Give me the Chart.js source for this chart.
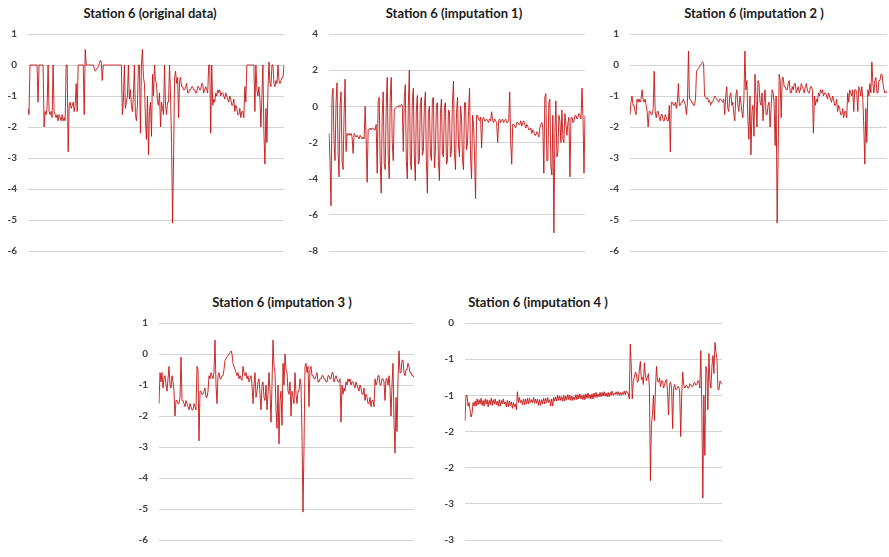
<!DOCTYPE html>
<html>
<head>
<meta charset="utf-8">
<script src="https://cdn.jsdelivr.net/npm/chart.js@4.4.0/dist/chart.umd.min.js"></script>
<style>
  body { margin: 0; background: #fff; width: 889px; height: 557px; position: relative; overflow: hidden; }
  .panel { position: absolute; }
  .ttl { position: absolute; font-family: Lato, "Open Sans", sans-serif; font-weight: bold; font-size: 13px; color: #1a1a1a; white-space: nowrap; transform: translateX(-50%); }
</style>
</head>
<body>
<script>
// titles
var titles = ['Station 6 (original data)', 'Station 6 (imputation 1)', 'Station 6 (imputation 2 )',
  'Station 6 (imputation 3 )', 'Station 6 (imputation 4 )'];

// series values left to right (gaps in the original are stored as 0)
var origData = [
  -1.4,-1.6,0,0,0,0,0,0,0,0,-1.2,0,0,0,0,0,-2.0,-1.5,-1.6,-1.4,
  0,-1.5,-1.6,-1.5,-1.7,0,-1.5,-1.6,-1.7,-1.6,-1.8,-1.6,-1.7,-1.8,-1.6,-1.8,-1.7,-1.8,0,0,
  -2.8,-1.3,-1.2,-1.4,-1.3,-1.2,-1.5,-1.3,-0.6,-1.5,0,0,0,0,0,0,-1.6,0.5,0,0,
  0,0,0,0,0,0,-0.1,-0.2,-0.15,-0.1,-0.05,0.05,0.15,0.1,-0.5,0,0,0,0,0,
  0,0,0,0,0,0,0,0,0,0,0,0,0,0,-1.6,-1.2,0,-1.4,-1.2,-1.0,
  0,-1.1,-0.8,-1.3,-1.5,-1.0,0,-1.6,-1.8,-1.3,0,0,-2.2,0,0.5,-0.4,-0.6,-1.8,-2.4,-1.0,
  -2.9,-1.5,-1.2,-2.3,-0.3,-1.0,0,-0.5,-0.6,-1.2,-1.3,-0.9,-2.0,-1.2,-1.4,-1.6,0,-1.3,-1.6,-1.2,
  -1.2,0,-1.0,-2.5,-5.1,-3.0,-0.4,-0.2,-0.6,-0.4,-1.7,-0.5,-0.4,-0.7,-0.7,-0.8,-0.8,-0.7,-0.6,-0.9,
  -0.9,-0.8,-0.8,-0.7,-0.7,-0.8,-0.8,-0.9,-0.9,-0.7,-0.7,-0.8,-0.8,-0.6,-0.6,-0.9,-0.8,-0.7,-0.8,-0.9,
  0,0,-2.2,0,-1.3,-1.1,-1.2,-0.9,-1.0,-0.8,-0.9,-0.8,-1.0,-0.9,-0.9,-1.0,-1.1,-0.9,-1.0,-1.1,
  -1.2,-1.0,-1.1,-1.3,-1.3,-1.1,-1.5,-1.3,-1.4,-1.6,-1.6,-1.4,-1.7,-1.5,-1.5,-1.7,-0.7,-1.2,0,0,
  0,0,0,0,0,0,-1.5,0,-0.8,-1.0,-0.7,-1.1,-2.0,-1.0,0,-2.2,-3.2,-1.4,-2.5,-0.8,
  0.1,-0.6,-0.7,0,0,-0.6,-0.7,-0.5,-0.6,0,-0.5,-0.6,-0.5,-0.4,-0.4,0];

var imp1Data = [
  -1.5,-3.0,-5.5,0.5,1.0,-2.0,-3.0,0.2,1.3,-2.5,-3.9,0.0,0.8,-3.0,-3.5,-0.5,1.5,-2.5,-1.5,-1.6,
  -1.5,-1.6,-1.5,-1.7,-2.6,-1.5,-1.6,-1.7,-1.6,-1.7,-1.8,-1.6,-1.7,-1.8,-1.7,-1.8,0.0,-1.8,-4.2,-1.3,
  -1.3,-1.2,-1.3,-1.2,-1.2,-1.3,-1.3,-1.0,-3.7,0.3,0.5,-3.0,-4.8,-0.5,0.8,-3.2,-3.5,0.0,1.6,-2.8,
  -4.0,0.5,1.6,-2.0,-3.0,-0.2,-0.1,-0.05,0.0,-0.05,0.05,0.0,0.1,0.05,-2.5,0.5,1.2,-3.0,-4.0,0.0,
  2.0,-3.0,-3.5,0.3,1.0,-2.8,-4.1,-0.2,0.6,-3.2,-3.0,0.2,0.5,-2.7,-2.5,0.0,0.8,-3.0,-4.8,-0.3,
  0.0,-2.6,-3.0,0.4,0.5,-3.4,-2.5,0.1,0.2,-3.0,-4.1,-0.4,0.4,-2.6,-2.8,0.0,0.2,-3.2,-3.0,-0.2,
  -0.3,-2.8,-2.5,0.3,1.4,-2.6,-3.5,-0.4,0.5,-2.2,-2.8,0.0,-0.5,-3.0,-3.5,0.2,0.2,-2.4,-2.0,-0.3,
  1.0,-2.8,-4.0,-0.5,-1.0,-2.8,-5.1,-0.5,-0.5,-0.7,-0.8,-0.6,-2.3,-0.7,-0.6,-0.8,-0.8,-0.7,-0.8,-0.9,
  -0.7,-0.8,-0.3,-0.8,-0.9,-0.7,-0.8,-0.9,-2.0,-0.8,-0.7,-0.9,-0.8,-0.7,-0.9,-0.8,-0.7,-0.9,-0.9,-0.8,
  0.8,-2.0,-3.2,-1.0,-1.0,-1.1,-1.2,-0.9,-0.9,-1.0,-1.0,-0.8,-1.1,-0.9,-0.8,-1.0,-1.2,-1.0,-1.1,-1.3,
  -1.3,-1.2,-1.5,-1.3,-1.4,-1.6,-1.6,-1.4,-1.5,-1.7,-1.2,-1.0,-0.9,-1.2,-3.7,0.5,0.7,-3.0,-3.0,0.2,
  0.4,-3.3,-3.8,-0.5,-7.0,-1.5,0.3,-2.8,-2.5,-0.5,-0.8,-2.0,-0.2,-1.8,-2.0,-0.4,-1.0,-1.6,-0.9,-0.6,
  -3.9,-0.7,-0.6,-0.9,-0.8,-0.5,-0.5,-0.7,-0.6,-0.4,-0.5,-0.7,1.0,-0.6,-3.7,-0.5];

var imp2Data = [
  -1.6,-1.2,-1.0,-1.3,-1.3,-1.5,-1.6,-1.1,-1.2,-1.1,-1.2,-1.1,-0.8,-1.1,-1.2,-1.1,-1.3,-1.5,-2.0,-1.5,
  -1.5,-1.6,-1.6,-1.4,-0.2,-1.5,-1.7,-1.5,-1.5,-1.7,-1.8,-1.6,-1.6,-1.8,-1.8,-1.6,-1.7,-1.8,-1.8,-1.3,
  -2.8,-1.2,-1.2,-1.3,-1.3,-1.2,-1.4,-1.2,-0.6,-1.3,-1.3,-1.2,-1.2,-1.1,-1.2,-1.3,-1.6,-1.2,0.45,-1.1,
  -1.1,-1.2,-1.2,-1.3,-1.3,-1.1,-0.2,-0.15,-0.1,-0.05,0.0,0.05,0.1,0.05,-1.0,-1.05,-1.1,-1.05,-1.2,-1.15,
  -1.3,-1.2,-1.2,-1.1,-1.0,-1.05,-1.1,-1.15,-1.2,-1.1,-1.1,-1.15,-1.2,-1.1,-1.6,-1.0,-0.7,-1.4,-1.5,-1.0,
  -0.9,-1.3,-1.2,-1.6,-1.8,-1.0,-0.8,-1.3,-1.5,-1.0,-1.2,-1.5,-1.7,-1.1,0.45,-0.8,-0.5,-1.8,-2.4,-1.0,
  -2.9,-1.5,-1.3,-2.3,-0.3,-1.0,-2.0,-0.5,-0.6,-1.2,-1.3,-0.9,-1.8,-1.2,-0.8,-1.6,-1.6,-1.3,-1.2,-2.0,
  -1.4,-0.8,-0.9,-1.2,-2.6,-1.0,-5.1,-2.8,-0.3,-0.5,-1.7,-0.4,-0.4,-0.7,-0.7,-0.8,-0.8,-0.6,-0.5,-0.9,
  -0.9,-0.7,-0.8,-0.6,-0.6,-0.9,-0.8,-0.7,-0.9,-0.8,-0.6,-0.7,-0.8,-0.9,-0.7,-0.6,-0.8,-0.9,-0.9,-0.7,
  -0.7,-0.8,-2.2,-1.0,-1.3,-1.1,-1.2,-0.9,-1.0,-0.8,-0.9,-0.8,-1.0,-0.9,-0.9,-1.0,-1.1,-0.9,-1.0,-1.1,
  -1.2,-1.0,-1.1,-1.3,-1.3,-1.1,-1.5,-1.3,-1.4,-1.6,-1.6,-1.4,-1.7,-1.5,-1.5,-1.7,-0.9,-1.2,-0.8,-0.9,
  -1.0,-0.8,-1.5,-0.8,-0.8,-0.9,-1.5,-0.7,-0.8,-1.0,-0.7,-1.1,-2.0,-3.2,-1.4,-2.5,-0.8,-1.0,-0.6,-0.9,
  0.1,-0.6,-0.9,-0.5,-0.4,-0.9,-0.9,-0.5,-0.5,-0.3,-0.3,-0.6,-0.8,-0.9,-0.85,-0.9];

var imp3Data = [
  -1.6,-0.6,-0.9,-0.6,-1.1,-0.8,-0.7,-1.0,-1.2,-0.8,-0.4,-1.0,-1.1,-0.7,-0.9,-1.2,-2.0,-1.5,-1.5,-1.6,
  -1.6,-1.4,-0.1,-1.5,-1.5,-1.6,-1.7,-1.5,-1.6,-1.7,-1.8,-1.6,-1.7,-1.8,-1.8,-1.6,-1.7,-1.8,-0.4,-0.5,
  -2.8,-1.2,-1.2,-1.3,-1.3,-1.2,-1.1,-1.4,-1.4,-1.2,-0.7,-0.8,-0.6,-0.7,-0.8,-0.6,0.45,-1.0,-1.6,-0.7,
  -0.6,-0.8,-0.8,-0.7,-0.7,-0.5,-0.2,-0.15,-0.1,-0.05,0.0,0.05,0.1,0.0,-0.3,-0.4,-0.5,-0.6,-0.7,-0.6,
  -0.8,-0.7,-0.8,-0.85,-0.4,-0.6,-0.7,-0.6,-0.8,-0.7,-0.9,-0.8,-0.7,-1.0,-1.6,-1.0,-0.6,-1.4,-1.2,-0.9,
  -0.8,-1.3,-1.8,-1.0,-0.9,-1.4,-1.5,-1.0,-1.8,-1.3,-0.6,-1.2,-2.2,-1.0,0.45,-0.4,-0.6,-1.8,-2.4,-1.0,
  -2.9,-1.5,-1.2,-2.3,-0.3,-1.0,0.0,-0.5,-0.6,-1.2,-1.3,-0.9,-2.0,-1.2,-1.4,-1.6,-0.6,-1.3,-1.6,-1.2,
  -1.2,-0.8,-1.0,-2.6,-5.1,-3.0,-0.4,-0.3,-0.6,-0.4,-1.7,-0.5,-0.4,-0.7,-0.7,-0.8,-0.8,-0.7,-0.6,-0.9,
  -0.9,-0.8,-0.8,-0.7,-0.7,-0.8,-0.8,-0.9,-0.9,-0.7,-0.7,-0.8,-0.8,-0.6,-0.6,-0.9,-0.8,-0.7,-0.8,-0.9,
  -0.9,-0.8,-2.2,-1.0,-1.3,-1.1,-1.2,-0.9,-1.0,-0.8,-0.9,-0.8,-1.0,-0.9,-0.9,-1.0,-1.1,-0.9,-1.0,-1.1,
  -1.2,-1.0,-1.1,-1.3,-1.3,-1.1,-1.5,-1.3,-1.4,-1.6,-1.6,-1.4,-1.7,-1.5,-1.5,-1.7,-0.8,-1.0,-0.9,-0.7,
  -0.7,-1.0,-1.0,-0.8,-0.8,-0.9,-1.5,-0.8,-0.8,-1.0,-0.7,-1.1,-2.0,-1.0,-0.3,-2.2,-3.2,-1.4,-2.5,-0.8,
  0.1,-0.6,-0.6,-0.2,-0.2,-0.6,-0.7,-0.5,-0.5,-0.3,-0.4,-0.6,-0.6,-0.7,-0.7,-0.75];

var imp4Data = [
  -1.35,-1.0,-1.0,-1.15,-1.1,-1.2,-1.3,-1.25,-1.1,-1.15,-1.08,-1.15,-1.05,-1.13,-1.06,-1.12,-1.04,-1.14,-1.07,-1.15,
  -1.05,-1.12,-1.06,-1.16,-1.07,-1.13,-1.04,-1.14,-1.06,-1.12,-1.05,-1.13,-1.08,-1.15,-1.06,-1.15,-1.07,-1.12,-1.05,-1.12,
  -1.09,-1.16,-1.07,-1.16,-1.08,-1.14,-1.09,-1.18,-1.1,-1.16,-1.12,-1.2,-0.95,-1.1,-1.03,-1.1,-1.07,-1.13,-1.05,-1.13,
  -1.05,-1.12,-1.04,-1.12,-1.04,-1.1,-1.06,-1.1,-1.03,-1.11,-1.05,-1.11,-1.05,-1.14,-1.06,-1.14,-1.06,-1.12,-1.04,-1.12,
  -1.04,-1.1,-1.03,-1.1,-1.06,-1.15,-1.05,-1.15,-1.03,-1.08,-1.02,-1.08,-1.0,-1.07,-1.01,-1.07,-1.02,-1.08,-1.0,-1.08,
  -1.01,-1.06,-0.99,-1.06,-1.0,-1.07,-1.01,-1.07,-1.02,-1.06,-0.99,-1.06,-0.99,-1.05,-0.98,-1.05,-1.0,-1.06,-0.99,-1.06,
  -0.98,-1.04,-0.97,-1.04,-0.99,-1.05,-0.98,-1.05,-0.97,-1.03,-0.96,-1.03,-0.98,-1.02,-0.96,-1.02,-0.96,-1.01,-0.95,-1.01,
  -0.97,-1.02,-0.96,-1.02,-0.96,-1.0,-0.94,-1.0,-0.97,-0.99,-0.95,-0.99,-0.95,-1.0,-0.96,-1.0,-0.96,-0.99,-0.94,-0.99,
  -0.94,-0.97,-0.97,-1.05,-0.29,-0.6,-1.05,-0.8,-0.75,-0.68,-0.7,-0.82,-0.8,-0.65,-0.53,-0.78,-0.75,-0.85,-0.55,-0.72,
  -0.8,-0.75,-0.7,-0.9,-2.18,-1.4,-1.27,-1.0,-1.35,-0.9,-0.6,-0.8,-0.82,-0.76,-0.88,-0.8,-0.8,-0.9,-0.86,-0.8,
  -0.78,-0.95,-1.27,-0.85,-0.82,-0.9,-1.46,-0.9,-0.85,-0.92,-0.92,-0.88,-0.88,-0.94,-1.57,-1.0,-0.68,-0.85,-0.9,-0.87,
  -0.86,-0.9,-0.9,-0.84,-0.85,-0.88,-0.88,-0.83,-0.82,-0.86,-0.85,-0.8,-0.8,-0.9,-0.38,-1.2,-2.42,-1.0,-1.83,-0.6,
  -0.66,-1.2,-0.42,-0.8,-0.9,-0.6,-0.45,-0.7,-0.27,-0.4,-0.5,-0.92,-0.92,-0.8,-0.83,-0.85];

// y axis ticks
var ticksA = [1, 0, -1, -2, -3, -4, -5, -6];
var ticksB = [4, 2, 0, -2, -4, -6, -8];
var imp4TickValues = [0, -0.5, -1, -1.5, -2, -2.5, -3];
var imp4TickLabels = ['0', '-1', '-1', '-2', '-2', '-3', '-3'];

// panel boxes: plot left, plot top, plot width, plot height, title centre x, title y
var panels = [
  { data: origData, ticks: ticksA, x: 28,  y: 27,  w: 256, h: 231, tx: 150, ty: 5 },
  { data: imp1Data, ticks: ticksB, x: 329, y: 27,  w: 256, h: 231, tx: 454, ty: 5 },
  { data: imp2Data, ticks: ticksA, x: 630, y: 27,  w: 257, h: 231, tx: 754, ty: 5 },
  { data: imp3Data, ticks: ticksA, x: 159, y: 316, w: 255, h: 231, tx: 282, ty: 294 },
  { data: imp4Data, ticks: null,   x: 465, y: 316, w: 257, h: 231, tx: 538, ty: 294 }
];

var AXW = 28, PAD = 10;

panels.forEach(function(p, k) {
  var t = document.createElement('div');
  t.className = 'ttl';
  t.style.left = p.tx + 'px';
  t.style.top = p.ty + 'px';
  t.textContent = titles[k];
  document.body.appendChild(t);

  var box = document.createElement('div');
  box.className = 'panel';
  box.style.left = (p.x - AXW) + 'px';
  box.style.top = (p.y - PAD) + 'px';
  var cv = document.createElement('canvas');
  cv.width = p.w + AXW + 2;
  cv.height = p.h + PAD * 2;
  box.appendChild(cv);
  document.body.appendChild(box);

  var yMin, yMax, step, cb;
  if (p.ticks) {
    yMax = p.ticks[0];
    yMin = p.ticks[p.ticks.length - 1];
    step = p.ticks[0] - p.ticks[1];
    cb = function(v) { return String(v); };
  } else {
    yMax = imp4TickValues[0];
    yMin = imp4TickValues[imp4TickValues.length - 1];
    step = 0.5;
    cb = function(v) {
      var i = imp4TickValues.indexOf(Math.round(v * 2) / 2);
      return i >= 0 ? imp4TickLabels[i] : '';
    };
  }

  new Chart(cv, {
    type: 'line',
    data: {
      labels: p.data.map(function(d, i) { return i; }),
      datasets: [{
        data: p.data,
        borderColor: 'rgba(200,20,20,0.9)',
        borderWidth: 1,
        pointRadius: 0,
        tension: 0,
        fill: false
      }]
    },
    options: {
      responsive: false,
      animation: false,
      layout: { padding: { top: PAD, bottom: PAD, left: 0, right: 2 } },
      plugins: { legend: { display: false }, title: { display: false }, tooltip: { enabled: false } },
      scales: {
        x: { display: false },
        y: {
          min: yMin, max: yMax,
          afterFit: function(axis) { axis.width = AXW; },
          border: { display: false },
          grid: { color: '#d4d4d4', lineWidth: 1, drawTicks: false },
          ticks: {
            stepSize: step,
            padding: 11,
            color: '#404040',
            font: { family: 'Lato', weight: 'bold', size: 10 },
            callback: cb
          }
        }
      }
    }
  });
});
</script>
</body>
</html>
